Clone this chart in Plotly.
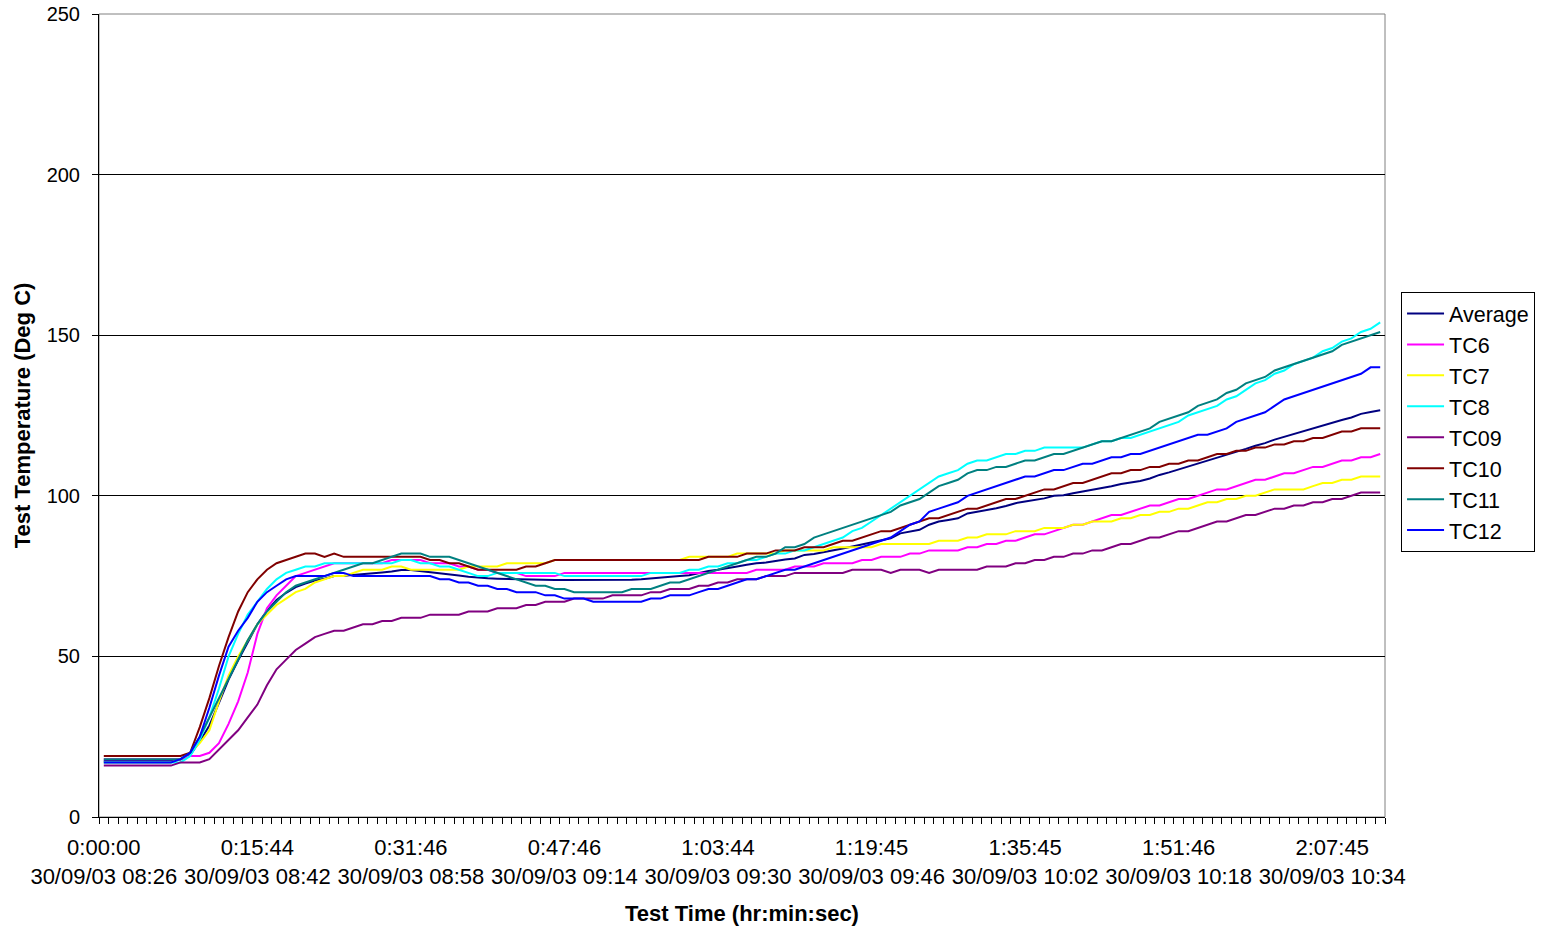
import plotly.graph_objects as go

# ---- data -----------------------------------------------------------------
n_points = 134
sample_index = list(range(n_points))

tick_index = [0, 16, 32, 48, 64, 80, 96, 112, 128]
elapsed_labels = ["0:00:00", "0:15:44", "0:31:46", "0:47:46", "1:03:44",
                  "1:19:45", "1:35:45", "1:51:46", "2:07:45"]
clock_labels = ["30/09/03 08:26", "30/09/03 08:42", "30/09/03 08:58",
                "30/09/03 09:14", "30/09/03 09:30", "30/09/03 09:46",
                "30/09/03 10:02", "30/09/03 10:18", "30/09/03 10:34"]

average = [17.4, 17.4, 17.4, 17.4, 17.4, 17.4, 17.4, 17.4, 17.9, 19.3,
           23.5, 28.5, 35.5, 42.8, 48.8, 54.5, 60, 64.2, 67.6, 69.8,
           71.6, 72.7, 73.6, 74.2, 75, 75.1, 75.3, 75.7, 75.9, 76.1,
           76.4, 76.9, 76.9, 76.6, 76.3, 76, 75.6, 75.2, 74.8, 74.5,
           74.3, 74.2, 74.1, 74.1, 74.1, 74, 73.9, 73.8, 73.8, 73.8,
           73.7, 73.7, 73.7, 73.8, 73.8, 73.9, 74, 74.2, 74.5, 74.8,
           75, 75.3, 76, 76.6, 77, 77.4, 78, 78.5, 79, 79.2,
           79.8, 80.2, 80.5, 81.6, 81.9, 82.4, 83.1, 83.6, 84.2, 84.8,
           85.5, 86.2, 86.8, 88.3, 88.9, 89.4, 91, 92, 92.5, 93,
           94.5, 95, 95.6, 96.1, 96.8, 97.7, 98.2, 98.7, 99.2, 100,
           100.2, 100.8, 101.3, 101.8, 102.5, 103, 103.7, 104.2, 104.6, 105.4,
           106.5, 107.3, 108.2, 109, 110, 110.8, 111.7, 112.6, 113.7, 114.6,
           115.6, 116.4, 117.5, 118.4, 119.2, 120, 120.9, 121.8, 122.7, 123.6,
           124.4, 125.5, 126.1, 126.6]

tc6 = [18, 18, 18, 18, 18, 18, 18, 18, 18, 19,
       19, 20, 23, 29, 36, 45, 57, 65, 69, 72,
       75, 76, 77, 78, 79, 79, 79, 79, 79, 79,
       80, 80, 80, 80, 79, 79, 79, 78, 78, 77,
       77, 76, 76, 76, 75, 75, 75, 75, 76, 76,
       76, 76, 76, 76, 76, 76, 76, 76, 76, 76,
       76, 76, 76, 76, 76, 76, 76, 76, 77, 77,
       77, 77, 78, 78, 78, 79, 79, 79, 79, 80,
       80, 81, 81, 81, 82, 82, 83, 83, 83, 83,
       84, 84, 85, 85, 86, 86, 87, 88, 88, 89,
       90, 91, 91, 92, 93, 94, 94, 95, 96, 97,
       97, 98, 99, 99, 100, 101, 102, 102, 103, 104,
       105, 105, 106, 107, 107, 108, 109, 109, 110, 111,
       111, 112, 112, 113]

tc7 = [17, 17, 17, 17, 17, 17, 17, 17, 18, 20,
       23, 27, 36, 44, 50, 55, 60, 63, 66, 68,
       70, 71, 73, 74, 75, 75, 76, 77, 77, 77,
       78, 78, 77, 77, 77, 77, 77, 77, 78, 78,
       78, 78, 79, 79, 79, 79, 79, 80, 80, 80,
       80, 80, 80, 80, 80, 80, 80, 80, 80, 80,
       80, 81, 81, 81, 81, 81, 82, 82, 82, 82,
       82, 83, 83, 83, 83, 83, 84, 84, 84, 84,
       84, 85, 85, 85, 85, 85, 85, 86, 86, 86,
       87, 87, 88, 88, 88, 89, 89, 89, 90, 90,
       90, 91, 91, 92, 92, 92, 93, 93, 94, 94,
       95, 95, 96, 96, 97, 98, 98, 99, 99, 100,
       100, 101, 102, 102, 102, 102, 103, 104, 104, 105,
       105, 106, 106, 106]

tc8 = [17, 17, 17, 17, 17, 17, 17, 17, 17, 19,
       24, 31, 40, 50, 57, 63, 67, 71, 74, 76,
       77, 78, 78, 79, 79, 79, 79, 79, 79, 79,
       79, 80, 80, 79, 79, 78, 78, 77, 76, 75,
       75, 76, 76, 76, 76, 76, 76, 76, 75, 75,
       75, 75, 75, 75, 75, 75, 75, 76, 76, 76,
       76, 77, 77, 78, 78, 79, 79, 80, 80, 81,
       82, 82, 83, 83, 84, 85, 86, 87, 89, 90,
       92, 94, 96, 98, 100, 102, 104, 106, 107, 108,
       110, 111, 111, 112, 113, 113, 114, 114, 115, 115,
       115, 115, 115, 116, 117, 117, 118, 118, 119, 120,
       121, 122, 123, 125, 126, 127, 128, 130, 131, 133,
       135, 136, 138, 139, 141, 142, 143, 145, 146, 148,
       149, 151, 152, 154]

tc09 = [16, 16, 16, 16, 16, 16, 16, 16, 17, 17,
        17, 18, 21, 24, 27, 31, 35, 41, 46, 49,
        52, 54, 56, 57, 58, 58, 59, 60, 60, 61,
        61, 62, 62, 62, 63, 63, 63, 63, 64, 64,
        64, 65, 65, 65, 66, 66, 67, 67, 67, 68,
        68, 68, 68, 69, 69, 69, 69, 70, 70, 71,
        71, 71, 72, 72, 73, 73, 74, 74, 74, 75,
        75, 75, 76, 76, 76, 76, 76, 76, 77, 77,
        77, 77, 76, 77, 77, 77, 76, 77, 77, 77,
        77, 77, 78, 78, 78, 79, 79, 80, 80, 81,
        81, 82, 82, 83, 83, 84, 85, 85, 86, 87,
        87, 88, 89, 89, 90, 91, 92, 92, 93, 94,
        94, 95, 96, 96, 97, 97, 98, 98, 99, 99,
        100, 101, 101, 101]

tc10 = [19, 19, 19, 19, 19, 19, 19, 19, 19, 20,
        28, 37, 47, 56, 64, 70, 74, 77, 79, 80,
        81, 82, 82, 81, 82, 81, 81, 81, 81, 81,
        81, 81, 81, 81, 80, 80, 79, 79, 78, 77,
        77, 77, 77, 77, 78, 78, 79, 80, 80, 80,
        80, 80, 80, 80, 80, 80, 80, 80, 80, 80,
        80, 80, 80, 81, 81, 81, 81, 82, 82, 82,
        83, 83, 83, 84, 84, 84, 85, 86, 86, 87,
        88, 89, 89, 90, 91, 92, 93, 93, 94, 95,
        96, 96, 97, 98, 99, 99, 100, 101, 102, 102,
        103, 104, 104, 105, 106, 107, 107, 108, 108, 109,
        109, 110, 110, 111, 111, 112, 113, 113, 114, 114,
        115, 115, 116, 116, 117, 117, 118, 118, 119, 120,
        120, 121, 121, 121]

tc11 = [18, 18, 18, 18, 18, 18, 18, 18, 18, 20,
        25, 31, 37, 43, 49, 55, 60, 64, 67, 70,
        72, 73, 74, 75, 76, 77, 78, 79, 79, 80,
        81, 82, 82, 82, 81, 81, 81, 80, 79, 78,
        77, 76, 75, 74, 73, 72, 72, 71, 71, 70,
        70, 70, 70, 70, 70, 71, 71, 71, 72, 73,
        73, 74, 75, 76, 77, 78, 79, 80, 81, 81,
        82, 84, 84, 85, 87, 88, 89, 90, 91, 92,
        93, 94, 95, 97, 98, 99, 101, 103, 104, 105,
        107, 108, 108, 109, 109, 110, 111, 111, 112, 113,
        113, 114, 115, 116, 117, 117, 118, 119, 120, 121,
        123, 124, 125, 126, 128, 129, 130, 132, 133, 135,
        136, 137, 139, 140, 141, 142, 143, 144, 145, 147,
        148, 149, 150, 151]

tc12 = [17, 17, 17, 17, 17, 17, 17, 17, 18, 20,
        25, 34, 44, 53, 58, 62, 67, 70, 72, 74,
        75, 75, 75, 75, 76, 76, 75, 75, 75, 75,
        75, 75, 75, 75, 75, 74, 74, 73, 73, 72,
        72, 71, 71, 70, 70, 70, 69, 69, 68, 68,
        68, 67, 67, 67, 67, 67, 67, 68, 68, 69,
        69, 69, 70, 71, 71, 72, 73, 74, 74, 75,
        76, 77, 77, 78, 79, 80, 81, 82, 83, 84,
        85, 86, 87, 89, 91, 92, 95, 96, 97, 98,
        100, 101, 102, 103, 104, 105, 106, 106, 107, 108,
        108, 109, 110, 110, 111, 112, 112, 113, 113, 114,
        115, 116, 117, 118, 119, 119, 120, 121, 123, 124,
        125, 126, 128, 130, 131, 132, 133, 134, 135, 136,
        137, 138, 140, 140]

series_names = ["Average", "TC6", "TC7", "TC8", "TC09", "TC10", "TC11", "TC12"]
series_values = [average, tc6, tc7, tc8, tc09, tc10, tc11, tc12]
series_colors = ["#000080", "#FF00FF", "#FFFF00", "#00FFFF",
                 "#800080", "#800000", "#008080", "#0000FF"]

# ---- figure ---------------------------------------------------------------
FONT = "Arial, 'Liberation Sans', sans-serif"

fig = go.Figure()
for name, vals, col in zip(series_names, series_values, series_colors):
    fig.add_trace(go.Scatter(
        x=sample_index, y=vals, mode="lines", name=name,
        line=dict(color=col, width=2),
    ))

fig.update_layout(
    width=1543, height=932, autosize=False,
    margin=dict(l=99, r=158, t=14, b=115, pad=0),
    paper_bgcolor="white", plot_bgcolor="white",
    font=dict(family=FONT, color="black", size=22),
    showlegend=True,
    legend=dict(
        xref="container", yref="container",
        x=0.908, y=0.6867, xanchor="left", yanchor="top",
        bordercolor="black", borderwidth=1, bgcolor="white",
        font=dict(family=FONT, size=21.5, color="black"),
        tracegroupgap=0, itemwidth=37,
    ),
    shapes=[dict(type="rect", xref="paper", yref="paper", x0=0, y0=0, x1=1, y1=1,
                 line=dict(color="#808080", width=1), layer="below")],
)

fig.update_xaxes(
    automargin=False,
    range=[-0.5, n_points - 0.5],
    tickmode="array", tickvals=tick_index,
    ticktext=[f"{a}<br>{b}" for a, b in zip(elapsed_labels, clock_labels)],
    ticks="", showgrid=False, zeroline=False,
    showline=True, linecolor="black", linewidth=1,
    tickfont=dict(family=FONT, size=22, color="black"),
    ticklabelstandoff=11,
    minor=dict(ticks="outside", tickmode="linear", tick0=-0.5, dtick=1,
               ticklen=6, tickcolor="black", tickwidth=1, showgrid=False),
    title=dict(text="<b>Test Time (hr:min:sec)</b>",
               font=dict(family=FONT, size=22, color="black"), standoff=17),
)

fig.update_yaxes(
    automargin=False,
    range=[0, 250], tickmode="linear", tick0=0, dtick=50,
    ticks="outside", ticklen=6, tickcolor="black", tickwidth=1,
    showgrid=True, gridcolor="black", gridwidth=1, zeroline=False,
    showline=True, linecolor="black", linewidth=1,
    tickfont=dict(family=FONT, size=20, color="black"),
    ticklabelstandoff=8,
    title=dict(text="<b>Test Temperature (Deg C)</b>",
               font=dict(family=FONT, size=22, color="black"), standoff=9),
)

fig.write_html("out.html", config={"displayModeBar": False},
               post_script="document.body.style.margin='0';")
